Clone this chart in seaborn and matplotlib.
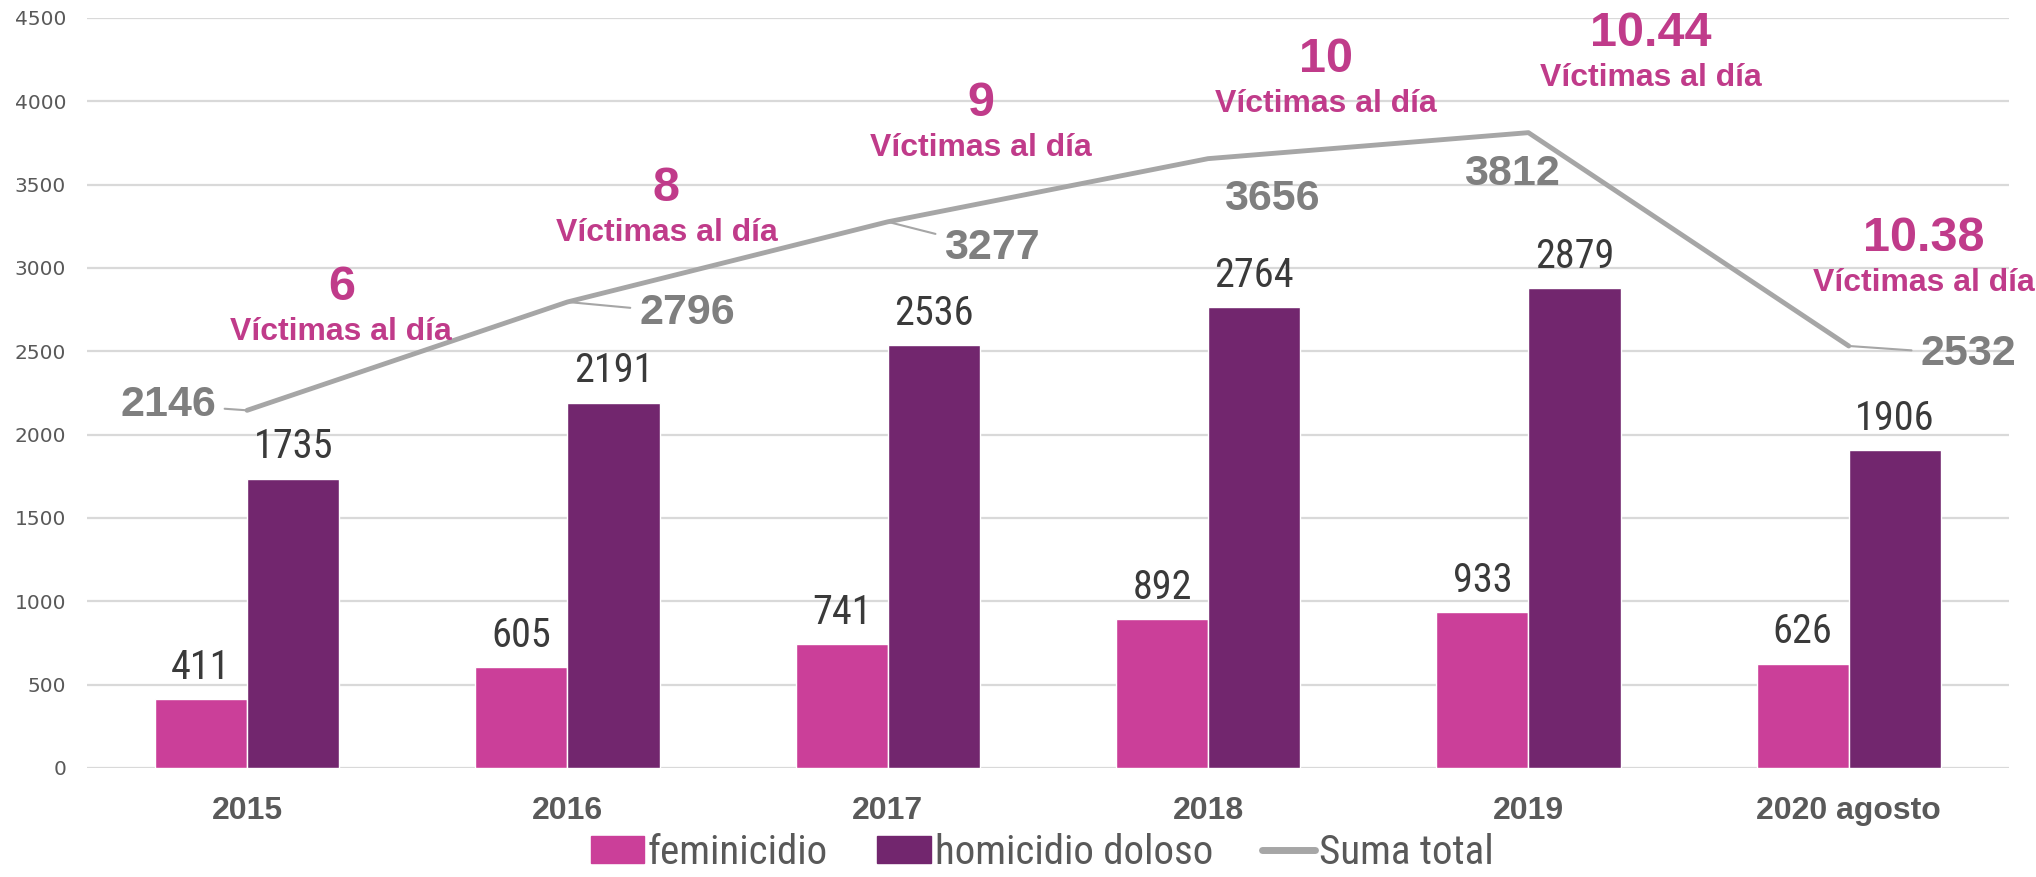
import numpy as np
import pandas as pd
import matplotlib
matplotlib.use('Agg')
import matplotlib.pyplot as plt
import seaborn as sns
from matplotlib.patches import Patch
from matplotlib.lines import Line2D

# datos
anios = ['2015', '2016', '2017', '2018', '2019', '2020 agosto']
feminicidio = [411, 605, 741, 892, 933, 626]
homicidio_doloso = [1735, 2191, 2536, 2764, 2879, 1906]
suma_total = [2146, 2796, 3277, 3656, 3812, 2532]
victimas_dia = ['6', '8', '9', '10', '10.44', '10.38']

COLOR_FEM = '#CB3F99'
COLOR_HOM = '#72266E'
COLOR_LINEA = '#A6A6A6'
COLOR_ROSA = '#C03B8A'
COLOR_GRIS = '#7F7F7F'

sns.set_theme(style='white')
plt.rcParams['font.family'] = ['Liberation Sans', 'DejaVu Sans']
NARROW = ['Liberation Sans Narrow', 'Arial Narrow', 'Roboto Condensed', 'Liberation Sans']

df = pd.DataFrame({
    'anio': anios * 2,
    'valor': feminicidio + homicidio_doloso,
    'tipo': ['feminicidio'] * len(anios) + ['homicidio doloso'] * len(anios),
})

fig = plt.figure(figsize=(20.36, 8.77), dpi=100)
ax = fig.add_axes([0.0427, 0.1243, 0.944, 0.8552])

sns.barplot(data=df, x='anio', y='valor', hue='tipo', order=anios,
            palette={'feminicidio': COLOR_FEM, 'homicidio doloso': COLOR_HOM},
            width=0.575, saturation=1, ax=ax, legend=False, zorder=2)

for cont in ax.containers:
    ax.bar_label(cont, padding=9, fontsize=29, color='#3A3A3A', family=NARROW)

pos = np.arange(len(anios))
sns.lineplot(x=pos, y=suma_total, color=COLOR_LINEA, lw=3.5, ax=ax, zorder=3)

# etiquetas de la suma total (desplazamiento en puntos, con linea guia)
offsets = [(-57, 4), (86, -8), (75, -19), (46, -29), (-12, -30), (86, -6)]
guia = [True, True, True, False, False, True]
for i, (v, off) in enumerate(zip(suma_total, offsets)):
    props = dict(arrowstyle='-', color=COLOR_LINEA, lw=1.5, shrinkA=4, shrinkB=0) if guia[i] else None
    ax.annotate(str(v), xy=(pos[i], v), xytext=off, textcoords='offset points',
                ha='center', va='center', fontsize=31, fontweight='bold',
                color=COLOR_GRIS, arrowprops=props, zorder=4)

# victimas al dia
pos_txt = [(0.294, 2883), (1.309, 3476), (2.29, 3986), (3.369, 4250), (4.381, 4405), (5.234, 3176)]
for txt, (xp, yp) in zip(victimas_dia, pos_txt):
    ax.text(xp, yp, txt, ha='center', va='center', fontsize=35, fontweight='bold',
            color=COLOR_ROSA, zorder=4)
    ax.text(xp, yp - 268, 'Víctimas al día', ha='center', va='center', fontsize=23,
            fontweight='bold', color=COLOR_ROSA, zorder=4)

ax.set_ylim(0, 4500)
ax.set_xlim(-0.5, len(anios) - 0.5)
ax.set_yticks(range(0, 4501, 500))
ax.yaxis.grid(True, color='#D9D9D9', lw=1.6, zorder=0)
ax.set_axisbelow(True)
for s in ax.spines.values():
    s.set_visible(False)
ax.set_xlabel('')
ax.set_ylabel('')
ax.tick_params(axis='y', length=0, pad=15, labelsize=14.5, labelcolor='#595959')
ax.tick_params(axis='x', length=0, pad=20, labelsize=23, labelcolor='#595959')
for t in ax.get_yticklabels():
    t.set_family('DejaVu Sans')
for t in ax.get_xticklabels():
    t.set_fontweight('bold')

handles = [Patch(color=COLOR_FEM, label='feminicidio'),
           Patch(color=COLOR_HOM, label='homicidio doloso'),
           Line2D([], [], color=COLOR_LINEA, lw=5, label='Suma total')]
leg = fig.legend(handles=handles, loc='center', bbox_to_anchor=(0.512, 0.028), ncol=3,
                 frameon=False, handlelength=1.3, handleheight=0.6, handletextpad=0.1,
                 columnspacing=1.2, borderpad=0.1, prop={'family': NARROW, 'size': 29.5})
for t in leg.get_texts():
    t.set_color('#595959')

fig.savefig('out.png', dpi=100)
